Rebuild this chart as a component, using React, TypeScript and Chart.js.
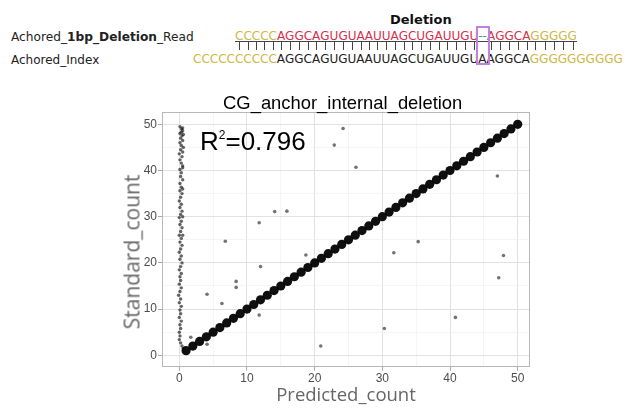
import React, { useEffect, useRef } from "react";
import { Chart, registerables } from "chart.js";

Chart.register(...registerables);

// ---------- text ----------
const chartTitle = "CG_anchor_internal_deletion";
const xTitle = "Predicted_count";
const yTitle = "Standard_count";
const r2Label = "=0.796";
const deletionLabel = "Deletion";

// ---------- ticks ----------
const majorTicks = [0, 10, 20, 30, 40, 50];
const minorTicks = [5, 15, 25, 35, 45];

// ---------- data ----------
// exact matches on the diagonal
const diagPredicted = [1, 2, 3, 4, 5, 6, 7, 8, 9, 10, 11, 12, 13, 14, 15, 16, 17, 18, 19, 20, 21, 22, 23, 24, 25, 26, 27, 28, 29, 30, 31, 32, 33, 34, 35, 36, 37, 38, 39, 40, 41, 42, 43, 44, 45, 46, 47, 48, 49, 50];
const diagStandard = [1, 2, 3, 4, 5, 6, 7, 8, 9, 10, 11, 12, 13, 14, 15, 16, 17, 18, 19, 20, 21, 22, 23, 24, 25, 26, 27, 28, 29, 30, 31, 32, 33, 34, 35, 36, 37, 38, 39, 40, 41, 42, 43, 44, 45, 46, 47, 48, 49, 50];

// near-zero predictions (vertical column)
const zeroPredicted = [0.1, 0.3, 0.5, 0.1, 0.4, 0.2, 0.5, 0.1, 0.3, 0.6, 0.2, 0.0, 0.4, 0.1, 0.3, 0.5, 0.1, 0.3, 0.2, 0.5, 0.1, 0.3, 0.1, 0.4, 0.2, 0.0, 0.3, 0.1, 0.4, 0.2, 0.0, 0.3, 0.1, 0.4, 0.2, 0.0, 0.3, 0.1, 0.4, 0.2, 0.0, 0.3, 0.1, 0.4, 0.2, 0.0, 0.3, 0.1, 0.2, 0.0, 0.3, 0.1, -0.1, 0.2, 0.0, 0.3, 0.1, 0.2, 0.0, 0.3, 0.1, 0.2, 0.0, 0.1, 0.0, 0.2, 0.4, 0.6, 0.5, 0.6, 0.3, 0.5, 0.5, 0.5, 0.5, 0.5];
const zeroStandard = [49.5, 49, 48.6, 48, 47.5, 47, 46.5, 46, 45.4, 45, 44.5, 43.6, 43, 42.3, 41.6, 41, 40.2, 39.5, 38.7, 38, 37.2, 36.4, 35.6, 35, 34.2, 33.4, 32.7, 32, 31.2, 30.5, 29.8, 29, 28.3, 27.6, 26.8, 26, 25.3, 24.5, 23.8, 23, 22.3, 21.5, 20.8, 20, 19.2, 18.5, 17.7, 17, 16.2, 15.4, 14.6, 13.8, 13, 12.2, 11.4, 10.6, 9.8, 9, 8.2, 7.4, 6.6, 5.8, 5, 4.2, 3.4, 2.7, 2.0, 1.5, 49.2, 47.8, 48.3, 44.0, 40.6, 36, 30, 26];

// scattered mismatches
const outlierPredicted = [22.9, 24.2, 26.1, 47.0, 11.8, 14.1, 15.9, 6.8, 18.7, 12.0, 8.4, 8.4, 4.1, 6.3, 11.8, 1.7, 4.1, 20.9, 30.3, 31.7, 35.3, 40.8, 47.2, 47.9];
const outlierStandard = [45.5, 49.1, 40.7, 38.8, 28.7, 31.1, 31.2, 24.7, 21.7, 19.2, 16.0, 14.7, 13.2, 11.2, 8.7, 3.9, 2.4, 2.0, 5.8, 22.2, 24.6, 8.2, 16.8, 21.6];

// ---------- sequence alignment header ----------
const readLabel = ["Achored_", "1bp_Deletion", "_Read"];
const indexLabel = "Achored_Index";
const readSegments: [string, string][] = [
  ["CCCCC", "anchor"],
  ["AGGCAGUGUAAUUAGCUGAUUGU", "read"],
  ["--", "gap"],
  ["AGGCA", "read"],
  ["GGGGG", "anchor"],
];
const indexSegments: [string, string][] = [
  ["CCCCCCCCCC", "anchor"],
  ["AGGCAGUGUAAUUAGCUGAUUGU", "index"],
  ["A", "index"],
  ["AGGCA", "index"],
  ["GGGGGGGGGG", "anchor"],
];
const segColors: Record<string, string> = {
  anchor: "#cdb846",
  read: "#d6304e",
  gap: "#2e9a9a",
  index: "#222222",
};

const SEQ_FONT = '"DejaVu Sans", Verdana, sans-serif';

function SeqRow({ segs, left, top }: { segs: [string, string][]; left: number; top: number }) {
  return (
    <div style={{ position: "absolute", left, top, fontFamily: SEQ_FONT, fontSize: 12, lineHeight: "12px", whiteSpace: "pre", fontKerning: "none" as any }}>
      {segs.map(([s, k], i) => (
        <span key={i} style={{ color: segColors[k] }}>{s}</span>
      ))}
    </div>
  );
}

function TickRow({ segs, left, top }: { segs: [string, string][]; left: number; top: number }) {
  const chars: string[] = [];
  segs.forEach(([s]) => { for (const c of s) chars.push(c); });
  return (
    <div style={{ position: "absolute", left, top, fontFamily: SEQ_FONT, fontSize: 12, lineHeight: "9px", height: 9, whiteSpace: "pre", fontKerning: "none" as any, borderTop: "1px solid #444" }}>
      {chars.map((c, i) => (
        <span key={i} style={{ position: "relative", display: "inline-block", color: "transparent" }}>
          {c}
          {c !== "-" && (
            <span style={{ position: "absolute", left: "50%", top: 0, width: 1, height: 8, background: "#444" }} />
          )}
        </span>
      ))}
    </div>
  );
}

export default function App() {
  const canvasRef = useRef<HTMLCanvasElement>(null);

  useEffect(() => {
    const canvas = canvasRef.current;
    if (!canvas) return;

    const tickSet = [...majorTicks, ...minorTicks].sort((a, b) => a - b);
    const isMajor = (v: any) => majorTicks.includes(v);

    const panelBorder = {
      id: "panelBorder",
      afterDatasetsDraw(chart: any) {
        const { ctx, chartArea: a } = chart;
        ctx.save();
        ctx.strokeStyle = "#b8b8b8";
        ctx.lineWidth = 1;
        ctx.strokeRect(Math.round(a.left) + 0.5, Math.round(a.top) + 0.5, Math.round(a.right - a.left) - 1, Math.round(a.bottom - a.top) - 1);
        ctx.restore();
      },
    };

    const scaleBase = (min: number, max: number) => ({
      type: "linear",
      min,
      max,
      afterBuildTicks: (scale: any) => {
        scale.ticks = tickSet.map((v) => ({ value: v }));
      },
      grid: {
        color: (c: any) => (isMajor(c.tick?.value) ? "#e2e2e2" : "#f1f1f1"),
        lineWidth: (c: any) => (isMajor(c.tick?.value) ? 1 : 0.7),
        tickColor: (c: any) => (isMajor(c.tick?.value) ? "#a8a8a8" : "rgba(0,0,0,0)"),
        tickLength: 4,
        drawTicks: true,
      },
      border: { display: false },
      ticks: {
        autoSkip: false,
        maxRotation: 0,
        padding: 1,
        color: "#4d4d4d",
        font: { family: '"Liberation Sans", Arial, sans-serif', size: 12 },
        callback: (v: any) => (isMajor(v) ? String(v) : ""),
      },
    });

    const toPts = (xs: number[], ys: number[]) => xs.map((x, i) => ({ x, y: ys[i] }));

    const chart = new Chart(canvas, {
      type: "scatter",
      data: {
        datasets: [
          {
            label: "match",
            data: toPts(diagPredicted, diagStandard),
            pointRadius: 4.6,
            pointBackgroundColor: "rgba(0,0,0,0.94)",
            pointBorderWidth: 0,
          },
          {
            label: "outlier",
            data: toPts(outlierPredicted, outlierStandard),
            pointRadius: 1.8,
            pointBackgroundColor: "rgba(40,40,40,0.65)",
            pointBorderWidth: 0,
          },
          {
            label: "zero",
            data: toPts(zeroPredicted, zeroStandard),
            pointRadius: 1.7,
            pointBackgroundColor: "rgba(0,0,0,0.6)",
            pointBorderWidth: 0,
          },
        ],
      },
      options: {
        animation: false,
        responsive: false,
        layout: { padding: { left: 0, right: 98, top: 32, bottom: 0 } },
        plugins: {
          legend: { display: false },
          tooltip: { enabled: false },
          title: { display: false },
        },
        scales: {
          x: {
            ...scaleBase(-2.556, 51.82),
            position: "bottom",
            afterFit: (s: any) => { s.height = 43.3; },
            title: {
              display: true,
              text: xTitle,
              color: "#666666",
              font: { family: '"Open Sans", sans-serif', size: 18.5 },
              padding: { top: 0, bottom: 2.9 },
            },
          },
          y: {
            ...scaleBase(-2.467, 52.66),
            position: "left",
            afterFit: (s: any) => { s.width = 162; },
          },
        },
      } as any,
      plugins: [panelBorder],
    } as any);

    return () => chart.destroy();
  }, []);

  return (
    <div style={{ position: "absolute", left: 0, top: 0, width: 628, height: 410, background: "#ffffff", overflow: "hidden" }}>
      {/* alignment header */}
      <div style={{ position: "absolute", left: 390, top: 12.5, fontFamily: SEQ_FONT, fontSize: 13, lineHeight: "13px", fontWeight: "bold", color: "#111" }}>
        {deletionLabel}
      </div>
      <div style={{ position: "absolute", left: 11, top: 30.7, fontFamily: SEQ_FONT, fontSize: 12.2, lineHeight: "12px", color: "#222", whiteSpace: "pre" }}>
        {readLabel[0]}<b>{readLabel[1]}</b>{readLabel[2]}
      </div>
      <div style={{ position: "absolute", left: 11, top: 53.7, fontFamily: SEQ_FONT, fontSize: 12, lineHeight: "12px", color: "#222", whiteSpace: "pre" }}>
        {indexLabel}
      </div>
      <SeqRow segs={readSegments} left={235} top={29.7} />
      <TickRow segs={readSegments} left={235} top={41} />
      <SeqRow segs={indexSegments} left={193} top={53.4} />
      <div style={{ position: "absolute", left: 476, top: 26, width: 14, height: 39, boxSizing: "border-box", border: "2px solid #c281e0" }} />

      {/* chart */}
      <canvas ref={canvasRef} width={628} height={330} style={{ position: "absolute", left: 0, top: 80, width: 628, height: 330 }} />

      {/* chart title */}
      <div style={{ position: "absolute", left: 342.7, top: 94.3, transform: "translateX(-50%)", fontFamily: '"Liberation Sans", Arial, sans-serif', fontSize: 18.4, lineHeight: "18px", color: "#000", whiteSpace: "nowrap" }}>
        {chartTitle}
      </div>
      {/* R^2 annotation */}
      <div style={{ position: "absolute", left: 200, top: 128, fontFamily: '"Liberation Sans", Arial, sans-serif', fontSize: 26, lineHeight: "26px", color: "#000", whiteSpace: "nowrap" }}>
        R<sup style={{ fontSize: 12, verticalAlign: "top", position: "relative", top: -6 }}>2</sup>{r2Label}
      </div>
      {/* y axis title */}
      <div style={{ position: "absolute", left: 132, top: 252, transform: "translate(-50%, -50%) rotate(-90deg)", fontFamily: '"Open Sans", sans-serif', fontSize: 21, lineHeight: "21px", color: "#666666", whiteSpace: "nowrap" }}>
        {yTitle}
      </div>
    </div>
  );
}
